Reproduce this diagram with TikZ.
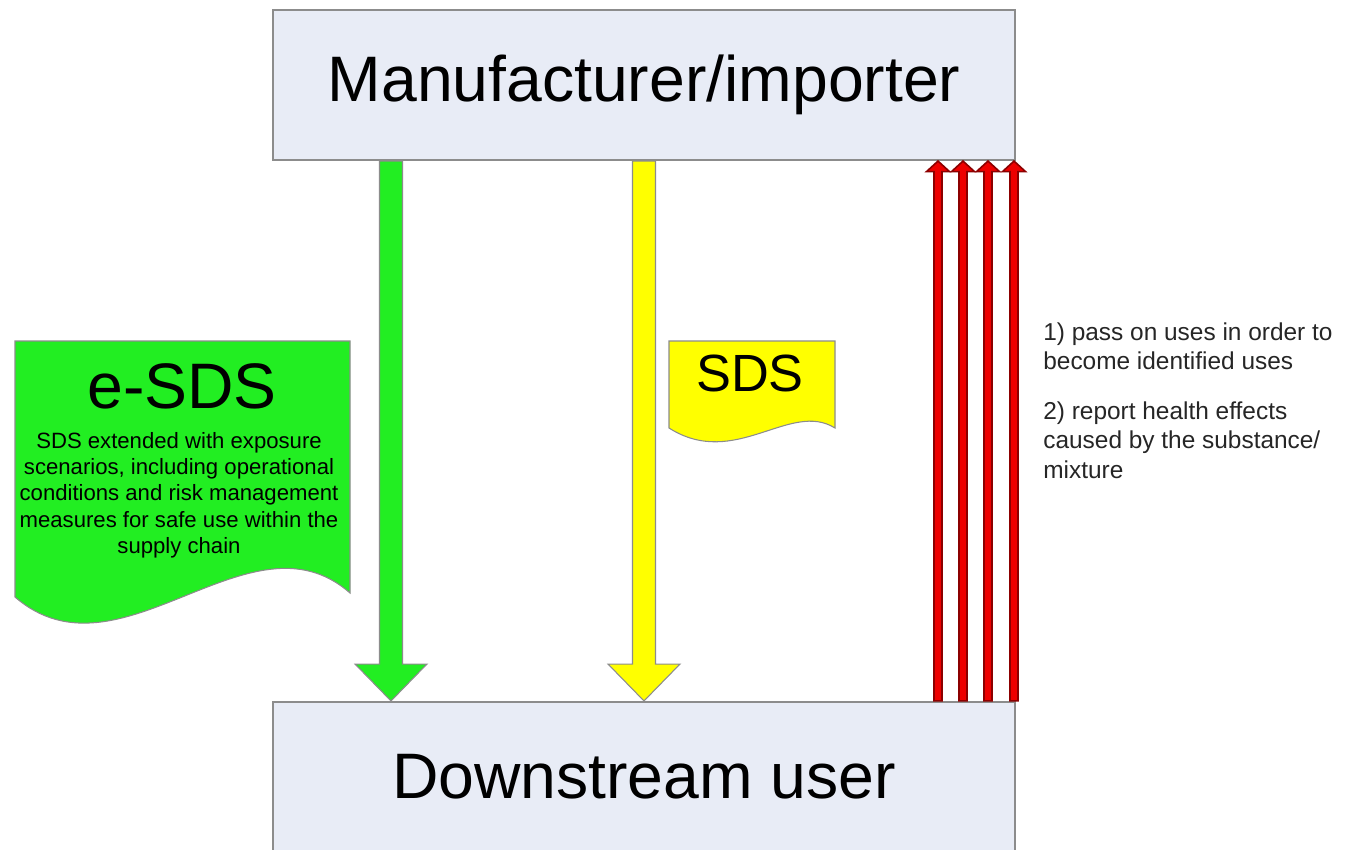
\documentclass[tikz,border=0pt]{standalone}
\usepackage{fontspec}
\setmainfont{Liberation Sans}
\usepackage{tikz}
\usetikzlibrary{positioning, calc}
\definecolor{boxfill}{RGB}{232, 236, 246}
\definecolor{boxline}{RGB}{140, 140, 140}
\definecolor{esdsgreen}{RGB}{34, 238, 34}
\definecolor{sdsyellow}{RGB}{255, 255, 0}
\definecolor{feedred}{RGB}{238, 0, 0}
\definecolor{feedline}{RGB}{140, 0, 0}

\begin{document}
\begin{tikzpicture}[
    x=0.02cm, y=-0.02cm,
    party/.style={draw=boxline, line width=1.2pt, fill=boxfill, minimum width=14.84cm, minimum height=3cm, inner sep=0pt, font=\fontsize{36.6}{44}\selectfont},
    shaftw/.store in=\shaftw, headw/.store in=\headw, tipl/.store in=\tipl,
    blockarrow/.style={line join=miter, line width=0.6pt, to path={
        ($(\tikztostart)+(-\shaftw,0)$)
        -- ($(\tikztotarget)!\tipl!(\tikztostart)+(-\shaftw,0)$)
        -- ($(\tikztotarget)!\tipl!(\tikztostart)+(-\headw,0)$)
        -- (\tikztotarget)
        -- ($(\tikztotarget)!\tipl!(\tikztostart)+(\headw,0)$)
        -- ($(\tikztotarget)!\tipl!(\tikztostart)+(\shaftw,0)$)
        -- ($(\tikztostart)+(\shaftw,0)$) -- cycle}},
    sheet/.style={draw=black!45, line width=0.6pt},
    note/.style={font=\fontsize{13.9}{16.8}\selectfont, text=black!85, align=left, inner sep=0pt, anchor=north west}
]
    \useasboundingbox[fill=white] (0,0) rectangle (1346,849);

    % Main entities
    \node[party] (maker) at (644,85) {Manufacturer/importer};
    \node[party, below=10.8cm of maker] (user) {Downstream user};

    % Documents
    \path[sheet, fill=esdsgreen] (15,341) -- (350,341) -- (350,593)
        .. controls (250,505) and (120,688) .. (15,597) -- cycle;
    \node[font=\fontsize{36.6}{44}\selectfont] (esds) at (182,386) {e-SDS};
    \node[font=\fontsize{12.6}{15}\selectfont, align=center] (esdsbody) at (179,495)
        {SDS extended with exposure\\scenarios, including operational\\conditions and risk management\\measures for safe use within the\\supply chain};
    \path[sheet, fill=sdsyellow] (669,341) -- (835,341) -- (835,428)
        .. controls (790,400) and (735,470) .. (669,428) -- cycle;
    \node[font=\fontsize{29.8}{36}\selectfont] (sds) at (750,373) {SDS};

    % Flows down the chain
    \coordinate (gx) at (391,0);
    \coordinate (yx) at (644,0);
    \draw[blockarrow, draw=black!45, fill=esdsgreen, shaftw=11.5, headw=36, tipl=21pt] (maker.south -| gx) to (user.north -| gx);
    \draw[blockarrow, draw=black!45, fill=sdsyellow, shaftw=11.5, headw=36, tipl=21pt] (maker.south -| yx) to (user.north -| yx);

    % Feedback up the chain
    \foreach \rx [count=\i] in {938, 963, 988, 1014} {
        \coordinate (r\i) at (\rx,0);
        \draw[blockarrow, draw=feedline, line width=0.9pt, fill=feedred, shaftw=4, headw=11.5, tipl=6pt] (user.north -| r\i) to (maker.south -| r\i);
    }
    \node[note] (feedback) at (1043,322) {1) pass on uses in order to\\become identified uses\\[11.5pt]2) report health effects\\caused by the substance/\\mixture};
\end{tikzpicture}
\end{document}
